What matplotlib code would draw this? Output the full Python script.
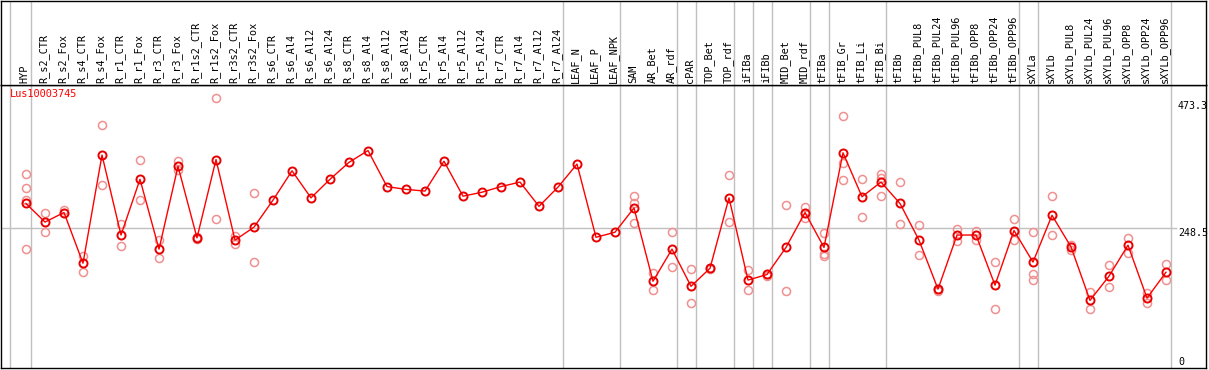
import matplotlib.pyplot as plt

# samples (column headers)
samples = ["HYP", "R_s2_CTR", "R_s2_Fox", "R_s4_CTR", "R_s4_Fox", "R_r1_CTR", "R_r1_Fox",
           "R_r3_CTR", "R_r3_Fox", "R_r1s2_CTR", "R_r1s2_Fox", "R_r3s2_CTR", "R_r3s2_Fox",
           "R_s6_CTR", "R_s6_Al4", "R_s6_Al12", "R_s6_Al24", "R_s8_CTR", "R_s8_Al4",
           "R_s8_Al12", "R_s8_Al24", "R_r5_CTR", "R_r5_Al4", "R_r5_Al12", "R_r5_Al24",
           "R_r7_CTR", "R_r7_Al4", "R_r7_Al12", "R_r7_Al24", "LEAF_N", "LEAF_P", "LEAF_NPK",
           "SAM", "AR_Bet", "AR_rdf", "cPAR", "TOP_Bet", "TOP_rdf", "iFIBa", "iFIBb",
           "MID_Bet", "MID_rdf", "tFIBa", "tFIB_Gr", "tFIB_Li", "tFIB_Bi", "tFIBb",
           "tFIBb_PUL8", "tFIBb_PUL24", "tFIBb_PUL96", "tFIBb_OPP8", "tFIBb_OPP24", "tFIBb_OPP96",
           "sXYLa", "sXYLb", "sXYLb_PUL8", "sXYLb_PUL24", "sXYLb_PUL96", "sXYLb_OPP8",
           "sXYLb_OPP24", "sXYLb_OPP96"]

# group sizes (separator lines drawn after each group)
group_sizes = [1, 28, 3, 3, 1, 2, 1, 1, 2, 1, 3, 7, 1, 7]

# mean expression per sample
means = [292, 259, 276, 186, 378, 236, 335, 211, 358, 231, 370, 227, 250,
         298, 350, 302, 335, 365, 386, 322, 317, 314, 367, 305, 312, 322, 330, 287, 321,
         362, 232, 241, 284, 154, 211, 145, 177, 302, 156, 166, 214, 276, 214,
         382, 304, 330, 292, 227, 140, 236, 236, 147, 244, 188, 271, 215, 120, 163, 218,
         124, 170]

# replicate values (empty where only one value)
replicates = [[344, 319, 299, 211], [276, 241], [280, 275], [199, 171], [431, 324],
              [256, 216], [370, 299], [227, 195], [367, 351], [232, 229], [479, 264],
              [235, 220], [310, 188],
              [], [], [], [], [], [], [], [], [], [], [], [], [], [], [], [], [], [], [],
              [306, 292, 257], [168, 139], [241, 179], [175, 115], [178, 176], [342, 259],
              [174, 138], [166, 164], [290, 137], [286, 276, 266], [240, 202, 199],
              [447, 363, 333], [335, 268], [345, 338, 305], [331, 255], [253, 200],
              [140, 136], [246, 225], [243, 228], [188, 104], [264, 227], [241, 167, 157],
              [305, 236], [218, 209], [135, 104], [182, 143], [230, 205], [134, 116],
              [184, 156]]

gene = "Lus10003745"
yticks = [0, 248.5, 473.3]

W, H = 1209, 370
fig = plt.figure(figsize=(W / 100, H / 100), dpi=100)

# pixel layout
left_px, right_px = 1, 1206
head_px, bottom_px = 85, 368
x0_px, step_px = 26, 19
scale = 0.5634  # px per unit

xl = ((left_px - x0_px) / step_px, (right_px - x0_px) / step_px)
ytop = (bottom_px - head_px) / scale

ax = fig.add_axes([left_px / W, (H - bottom_px) / H, (right_px - left_px) / W, (bottom_px - head_px) / H])
hx = fig.add_axes([left_px / W, (H - head_px) / H, (right_px - left_px) / W, (head_px - 0.5) / H])

for a in (ax, hx):
    a.set_xlim(*xl)
    a.set_xticks([])
    a.set_yticks([])
    for s in a.spines.values():
        s.set_color('black')
        s.set_linewidth(1)
ax.set_ylim(0, ytop)
hx.set_ylim(0, 1)

# separator lines
pos = -1
seps = [pos + 0.18]
for g in group_sizes:
    pos += g
    seps.append(pos + 0.24)
for a in (ax, hx):
    for s in seps:
        a.axvline(s, color='#c0c0c0', lw=1, zorder=0)

# gridline at middle tick
ax.plot([xl[0], 60.55], [yticks[1], yticks[1]], color='#c0c0c0', lw=1, zorder=0)

x = list(range(len(samples)))
# replicates
for i, reps in enumerate(replicates):
    if reps:
        ax.plot([i] * len(reps), reps, 'o', ms=5.8, mfc='none', mec='#f09090', mew=1.1, zorder=2)
# mean line
ax.plot(x, means, '-', color='red', lw=1, zorder=3)
ax.plot(x, means, 'o', ms=5.8, mfc='none', mec='#e80000', mew=1.4, zorder=4)

# header labels
for i, name in enumerate(samples):
    hx.text(i - 0.06, 0.02, name, rotation=90, ha='center', va='bottom',
            family='DejaVu Sans Mono', fontsize=7.4, color='black')

# right axis labels
ax.text(60.63, yticks[2], "473.3", ha='left', va='top', family='DejaVu Sans Mono', fontsize=7.2)
ax.text(60.63, yticks[1], "248.5", ha='left', va='top', family='DejaVu Sans Mono', fontsize=7.2)
ax.text(60.63, yticks[0] + 2, "0", ha='left', va='bottom', family='DejaVu Sans Mono', fontsize=7.2)

ax.text(-0.85, ytop - 7, gene, ha='left', va='top', color='red', family='DejaVu Sans Mono', fontsize=7.4)

fig.savefig("out.png", dpi=100)
